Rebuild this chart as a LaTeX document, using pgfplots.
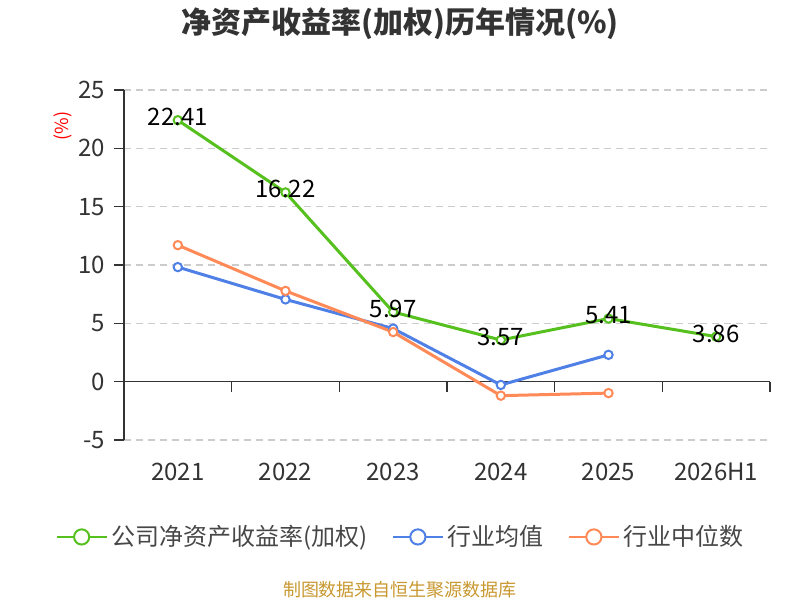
\documentclass[border=0pt]{standalone}
\usepackage{pgfplots}
\pgfplotsset{compat=1.18}
\usepackage{fontspec}
\setmainfont{Noto Sans CJK SC}
\definecolor{cgreen}{RGB}{86,192,30}
\definecolor{cblue}{RGB}{78,128,230}
\definecolor{corange}{RGB}{255,138,88}
\definecolor{axisgray}{RGB}{51,51,51}
\definecolor{gridgray}{RGB}{204,204,204}
\definecolor{footer}{RGB}{200,152,48}
\pgfplotstableread{
x company mean median
0 22.41 9.82 11.70
1 16.22 7.05 7.78
2 5.97 4.55 4.25
3 3.57 -0.28 -1.20
4 5.41 2.30 -0.98
5 3.86 nan nan
}\roedata
\begin{document}
\begin{tikzpicture}
\useasboundingbox (0,0) rectangle (400pt,300pt);
\node[font=\fontsize{15}{18}\selectfont\bfseries, text=axisgray] at (200pt,288.3pt) {净资产收益率(加权)历年情况(\%)};
\node[font=\fontsize{9}{11}\selectfont, text=footer] at (200pt,5pt) {制图数据来自恒生聚源数据库};
\node[font=\fontsize{9}{11}\selectfont, text=red, rotate=90] at (31.5pt,237pt) {(\%)};
\begin{axis}[
  at={(62pt,80pt)}, anchor=south west,
  scale only axis, width=323pt, height=175pt,
  xmin=-0.5, xmax=5.5, ymin=-5, ymax=25,
  xtick={0,...,5}, xticklabels={2021,2022,2023,2024,2025,2026H1},
  ytick={-5,0,5,10,15,20,25},
  axis x line*=bottom, axis y line*=left,
  x axis line style={draw=none},
  y axis line style={-, draw=axisgray, line width=0.75pt},
  major x tick style={draw=none},
  ytick style={draw=axisgray, line width=0.75pt},
  tick align=outside,
  major tick length=5pt,
  ymajorgrids,
  grid style={gridgray, line width=0.6pt, dash pattern=on 3.5pt off 2.5pt},
  tick label style={font=\fontsize{12}{14}\selectfont, text=axisgray},
  /pgf/number format/assume math mode=true,
  xticklabel style={yshift=-3pt},
  yticklabel style={xshift=-1pt},
  clip=false,
  legend style={at={(0.43,-0.277)}, anchor=center, draw=none, fill=none,
    font=\fontsize{12}{14}\selectfont, text=axisgray!90,
    /tikz/every even column/.append style={column sep=10pt}},
  legend columns=-1,
  legend image code/.code={\draw[#1, line width=1pt] (0pt,0pt) -- (25pt,0pt);
    \draw[#1, line width=1pt, fill=white] (12.5pt,0pt) circle (3.8pt);},
  every axis plot/.append style={line width=1.5pt, mark=*, mark size=2.1pt, mark options={fill=white, line width=1pt}},
]
\draw[axisgray, line width=0.75pt] (axis cs:-0.5,0) -- (axis cs:5.5,0);
\pgfplotsinvokeforeach{-0.5,0.5,1.5,2.5,3.5,4.5,5.5}{
  \draw[axisgray, line width=0.75pt] (axis cs:#1,0) -- ++(0pt,-5pt);
}
\addplot[color=cgreen, nodes near coords, point meta=explicit symbolic,
  every node near coord/.append style={font=\fontsize{12}{14}\selectfont, text=black, anchor=center, yshift=1.5pt}]
  table[x=x, y=company, meta=company] {\roedata};
\addlegendentry{公司净资产收益率(加权)}
\addplot[color=cblue, unbounded coords=discard] table[x=x, y=mean] {\roedata};
\addlegendentry{行业均值}
\addplot[color=corange, unbounded coords=discard] table[x=x, y=median] {\roedata};
\addlegendentry{行业中位数}
\end{axis}
\end{tikzpicture}
\end{document}
